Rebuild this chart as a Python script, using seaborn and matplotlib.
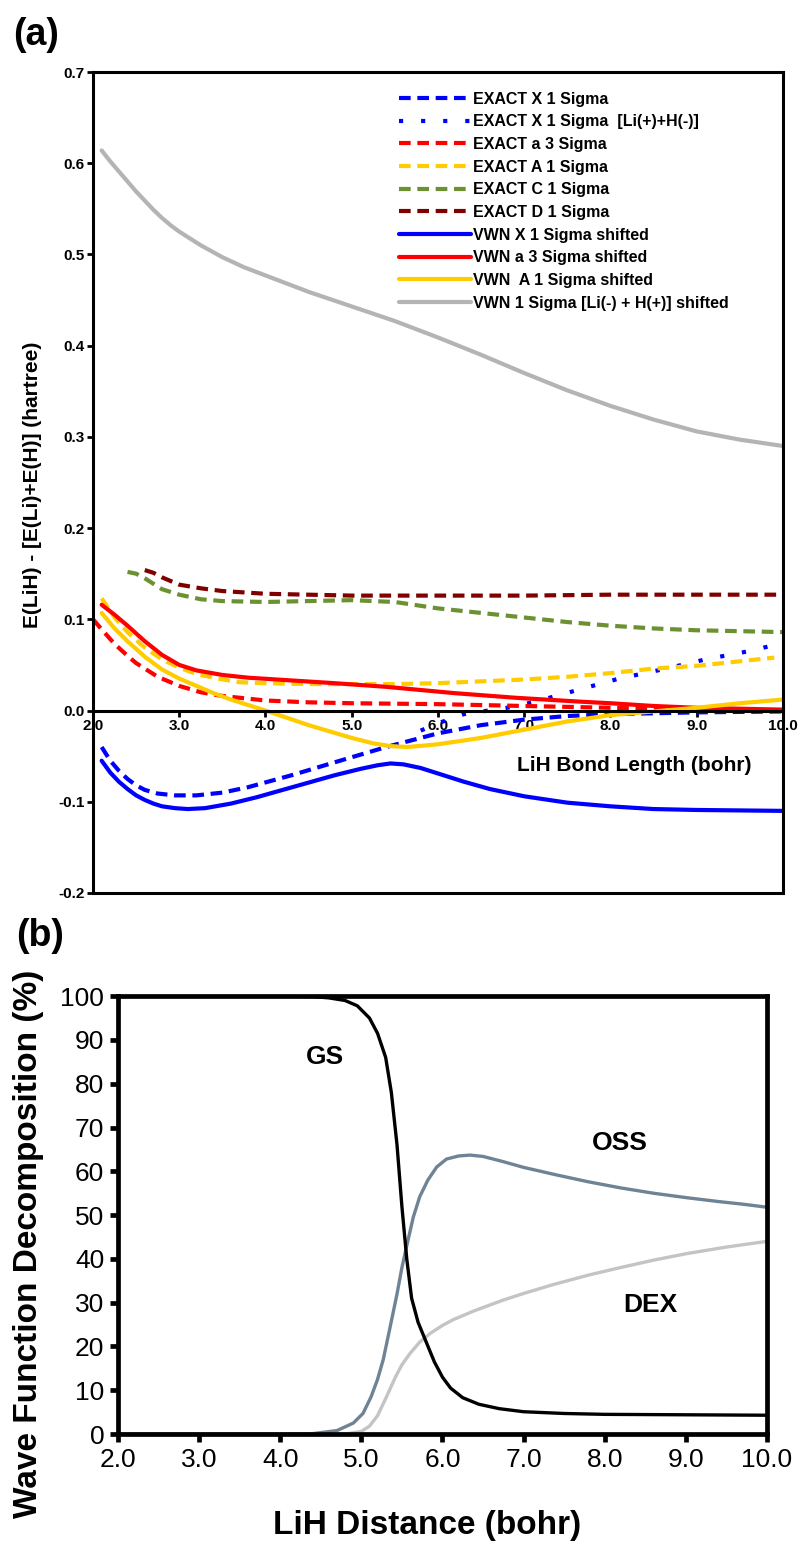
import numpy as np
import pandas as pd
import seaborn as sns
import matplotlib.pyplot as plt

# ---- panel (a): energies (hartree) vs LiH bond length (bohr) ----
ion_x = [2.1, 2.2, 2.3, 2.4, 2.5, 2.6, 2.7, 2.8, 2.9, 3.0, 3.25, 3.5, 3.75, 4.0, 4.5, 5.0, 5.5,
         6.0, 6.5, 7.0, 7.5, 8.0, 8.5, 9.0, 9.5, 10.0]
ion_y = [0.614, 0.602, 0.591, 0.580, 0.569, 0.559, 0.549, 0.540, 0.532, 0.525, 0.510, 0.497,
         0.486, 0.477, 0.459, 0.443, 0.427, 0.409, 0.390, 0.370, 0.351, 0.334, 0.319, 0.306,
         0.297, 0.290]

exD_x = [2.6, 2.7, 2.8, 3.0, 3.25, 3.5, 4.0, 5.0, 6.0, 7.0, 8.0, 9.0, 10.0]
exD_y = [0.154, 0.151, 0.146, 0.138, 0.134, 0.131, 0.128, 0.126, 0.126, 0.126, 0.127, 0.127, 0.127]

exC_x = [2.4, 2.5, 2.6, 2.7, 2.8, 3.0, 3.25, 3.5, 4.0, 4.5, 5.0, 5.5, 6.0, 6.5, 7.0, 7.5, 8.0,
         8.5, 9.0, 9.5, 10.0]
exC_y = [0.152, 0.150, 0.145, 0.139, 0.133, 0.127, 0.122, 0.120, 0.119, 0.120, 0.121, 0.119,
         0.112, 0.107, 0.102, 0.097, 0.093, 0.090, 0.088, 0.087, 0.086]

exA_x = [2.1, 2.25, 2.4, 2.6, 2.8, 3.0, 3.2, 3.45, 3.7, 4.0, 4.5, 5.0, 5.5, 6.0, 6.5, 7.0, 7.5,
         8.0, 8.5, 9.0, 9.5, 9.9]
exA_y = [0.123, 0.102, 0.086, 0.069, 0.056, 0.047, 0.040, 0.035, 0.031, 0.030, 0.029, 0.029,
         0.029, 0.030, 0.032, 0.034, 0.037, 0.041, 0.046, 0.049, 0.054, 0.058]

exa3_x = [2.0, 2.1, 2.25, 2.4, 2.5, 2.75, 3.0, 3.25, 3.5, 4.0, 4.5, 5.0, 6.0, 7.0, 8.0, 9.0, 10.0]
exa3_y = [0.100, 0.089, 0.073, 0.060, 0.052, 0.037, 0.027, 0.020, 0.016, 0.011, 0.009, 0.008,
          0.007, 0.005, 0.003, 0.001, 0.000]

exX_x = [2.1, 2.2, 2.3, 2.4, 2.5, 2.6, 2.75, 2.95, 3.2, 3.5, 3.8, 4.3, 4.9, 5.4, 6.0, 6.5, 7.0,
         7.5, 8.0, 9.0, 10.0]
exX_y = [-0.040, -0.055, -0.066, -0.075, -0.082, -0.087, -0.091, -0.093, -0.093, -0.090,
         -0.084, -0.071, -0.054, -0.040, -0.025, -0.016, -0.010, -0.006, -0.004, -0.002, -0.001]

exXion_x = [5.8, 6.0, 6.3, 6.8, 7.1, 7.6, 8.1, 8.6, 9.1, 9.6, 10.0]
exXion_y = [-0.022, -0.014, -0.004, 0.003, 0.009, 0.022, 0.035, 0.045, 0.056, 0.065, 0.074]

vwnX_x = [2.1, 2.2, 2.3, 2.4, 2.5, 2.6, 2.7, 2.8, 2.95, 3.1, 3.3, 3.6, 3.9, 4.2, 4.5, 4.8, 5.1,
          5.3, 5.45, 5.6, 5.8, 6.0, 6.3, 6.6, 7.0, 7.5, 8.0, 8.5, 9.0, 10.0]
vwnX_y = [-0.055, -0.068, -0.078, -0.086, -0.093, -0.098, -0.102, -0.105, -0.107, -0.108,
          -0.107, -0.102, -0.095, -0.087, -0.079, -0.071, -0.064, -0.060, -0.058, -0.059,
          -0.063, -0.069, -0.078, -0.086, -0.094, -0.101, -0.105, -0.108, -0.109, -0.110]

vwna3_x = [2.1, 2.25, 2.4, 2.6, 2.8, 3.0, 3.2, 3.5, 3.8, 4.3, 4.8, 5.4, 6.2, 6.9, 7.6, 8.0, 8.5,
           9.0, 10.0]
vwna3_y = [0.116, 0.105, 0.093, 0.076, 0.061, 0.050, 0.044, 0.039, 0.036, 0.033, 0.030, 0.026,
           0.019, 0.014, 0.010, 0.008, 0.005, 0.003, 0.001]

vwnA_x = [2.1, 2.25, 2.4, 2.6, 2.8, 3.0, 3.2, 3.4, 3.6, 3.8, 4.0, 4.5, 5.0, 5.25, 5.45, 5.65,
          6.0, 6.5, 7.0, 7.5, 8.0, 8.5, 9.0, 9.5, 10.0]
vwnA_y = [0.107, 0.090, 0.076, 0.059, 0.045, 0.035, 0.027, 0.019, 0.012, 0.006, 0.000, -0.016,
          -0.030, -0.036, -0.039, -0.040, -0.037, -0.030, -0.021, -0.012, -0.005, -0.001,
          0.003, 0.008, 0.012]

labels_a = ["EXACT X 1 Sigma", "EXACT X 1 Sigma  [Li(+)+H(-)]", "EXACT a 3 Sigma",
            "EXACT A 1 Sigma", "EXACT C 1 Sigma", "EXACT D 1 Sigma",
            "VWN X 1 Sigma shifted", "VWN a 3 Sigma shifted", "VWN  A 1 Sigma shifted",
            "VWN 1 Sigma [Li(-) + H(+)] shifted"]

# ---- panel (b): wave function decomposition (%) vs LiH distance ----
gs_x = [2.0, 3.0, 4.0, 4.4, 4.6, 4.8, 4.95, 5.1, 5.2, 5.3, 5.37, 5.44, 5.5, 5.56, 5.62, 5.7,
        5.8, 5.9, 6.0, 6.1, 6.25, 6.45, 6.7, 7.0, 7.5, 8.0, 9.0, 10.0]
gs_y = [100, 100, 100, 99.9, 99.6, 99.0, 97.8, 95.0, 91.5, 86.0, 78.0, 66.0, 52.0, 40.0, 31.0,
        25.5, 21.0, 16.5, 13.0, 10.5, 8.3, 6.8, 5.8, 5.1, 4.7, 4.5, 4.4, 4.3]

oss_x = [2.0, 3.0, 4.0, 4.4, 4.7, 4.9, 5.02, 5.12, 5.2, 5.27, 5.35, 5.44, 5.5, 5.56, 5.64, 5.72,
         5.82, 5.93, 6.05, 6.2, 6.34, 6.5, 6.75, 7.0, 7.4, 7.8, 8.2, 8.6, 9.0, 9.4, 9.7, 10.0]
oss_y = [0, 0, 0, 0.1, 0.8, 2.5, 4.7, 8.5, 12.5, 17.0, 24.0, 32.0, 38.0, 43.0, 49.5, 54.2,
         58.0, 61.0, 62.8, 63.5, 63.7, 63.4, 62.2, 60.9, 59.2, 57.6, 56.2, 55.0, 54.0, 53.1,
         52.5, 51.8]

dex_x = [2.0, 3.0, 4.0, 4.8, 5.0, 5.1, 5.2, 5.31, 5.42, 5.5, 5.6, 5.72, 5.85, 6.0, 6.13, 6.4,
         6.75, 7.0, 7.36, 7.8, 8.19, 8.6, 9.01, 9.5, 10.0]
dex_y = [0, 0, 0, 0, 0.6, 1.8, 4.2, 8.5, 13.0, 15.8, 18.4, 21.0, 23.0, 24.8, 26.1, 28.2, 30.6,
         32.1, 34.1, 36.3, 38.0, 39.7, 41.2, 42.7, 44.0]

sns.set_theme(style="white")
plt.rcParams['font.family'] = ['Liberation Sans', 'DejaVu Sans']
plt.rcParams['text.color'] = 'black'
plt.rcParams['axes.labelcolor'] = 'black'
plt.rcParams['xtick.color'] = 'black'
plt.rcParams['ytick.color'] = 'black'

fig = plt.figure(figsize=(8.04, 15.42), dpi=100)
ax1 = fig.add_axes([0.1157, 0.4209, 0.858, 0.5324])
ax2 = fig.add_axes([0.1468, 0.0700, 0.807, 0.2840])


def draw(ax, x, y, color, label, lw, dashes=None):
    sns.lineplot(x=x, y=y, ax=ax, color=color, label=label, linewidth=lw)
    line = ax.lines[-1]
    if dashes is not None:
        line.set_dashes(dashes)
    return line


dash = (2.8, 1.6)
dots = (1.0, 4.3)
draw(ax1, exX_x, exX_y, "#0000ff", labels_a[0], 3, dash)
draw(ax1, exXion_x, exXion_y, "#0000ff", labels_a[1], 3, dots)
draw(ax1, exa3_x, exa3_y, "#ff0000", labels_a[2], 3, dash)
draw(ax1, exA_x, exA_y, "#ffcc00", labels_a[3], 3, dash)
draw(ax1, exC_x, exC_y, "#6b9131", labels_a[4], 3, dash)
draw(ax1, exD_x, exD_y, "#800000", labels_a[5], 3, dash)
draw(ax1, vwnX_x, vwnX_y, "#0000ff", labels_a[6], 3)
draw(ax1, vwna3_x, vwna3_y, "#ff0000", labels_a[7], 3)
draw(ax1, vwnA_x, vwnA_y, "#ffcc00", labels_a[8], 3)
draw(ax1, ion_x, ion_y, "#b4b4b4", labels_a[9], 3)

ax1.set_xlim(2, 10)
ax1.set_ylim(-0.2, 0.7)
ax1.spines['bottom'].set_position(('data', 0))
for s in ax1.spines.values():
    s.set_color('black')
    s.set_linewidth(2.2)
ax1.axhline(-0.2, color='black', lw=2.2, clip_on=False)
ax1.set_xticks(np.arange(2, 10.01, 1))
ax1.set_xticklabels([f"{v:.1f}" for v in np.arange(2, 10.01, 1)], fontsize=11, fontweight='bold')
ax1.set_yticks(np.arange(-0.2, 0.71, 0.1))
ax1.set_yticklabels([f"{v:.1f}" for v in np.arange(-0.2, 0.71, 0.1)], fontsize=11, fontweight='bold')
ax1.tick_params(axis='both', direction='out', length=4, width=2, color='black', pad=2,
                bottom=True, left=True)
ax1.set_xlabel("")
ax1.set_ylabel("E(LiH) - [E(Li)+E(H)] (hartree)", fontsize=15, fontweight='bold')
ax1.yaxis.set_label_coords(-0.074, 0.497)
ax1.text(8.28, -0.060, "LiH Bond Length (bohr)", fontsize=15, fontweight='bold',
         ha='center', va='center')
h, l = ax1.get_legend_handles_labels()
ax1.legend(h, l, loc='upper left', bbox_to_anchor=(0.435, 0.984), frameon=False,
           handlelength=4.5, handletextpad=0.1, labelspacing=0.48, borderaxespad=0,
           prop={'weight': 'bold', 'size': 11.5})

# panel (b)
draw(ax2, dex_x, dex_y, "#c4c4c4", "DEX", 2.4)
draw(ax2, oss_x, oss_y, "#6f8395", "OSS", 2.4)
draw(ax2, gs_x, gs_y, "black", "GS", 2.4)
ax2.get_legend().remove()
ax2.set_xlim(2, 10)
ax2.set_ylim(0, 100)
for s in ax2.spines.values():
    s.set_color('black')
    s.set_linewidth(3.4)
ax2.set_xticks(np.arange(2, 10.01, 1))
ax2.set_xticklabels([f"{v:.1f}" for v in np.arange(2, 10.01, 1)], fontsize=19)
ax2.set_yticks(np.arange(0, 101, 10))
ax2.set_yticklabels([str(v) for v in range(0, 101, 10)], fontsize=19)
ax2.tick_params(axis='both', direction='out', length=6, width=3.4, color='black', pad=4,
                bottom=True, left=True)
ax2.set_xlabel("LiH Distance (bohr)", fontsize=24, fontweight='bold')
ax2.set_ylabel("Wave Function Decomposition (%)", fontsize=24, fontweight='bold')
ax2.xaxis.set_label_coords(0.476, -0.1735)
ax2.yaxis.set_label_coords(-0.114, 0.435)
ax2.text(4.55, 86, "GS", fontsize=19, fontweight='bold', ha='center', va='center')
ax2.text(8.19, 66.5, "OSS", fontsize=19, fontweight='bold', ha='center', va='center')
ax2.text(8.56, 29.5, "DEX", fontsize=19, fontweight='bold', ha='center', va='center')

fig.text(36 / 804, 1 - 35 / 1542, "(a)", fontsize=27, fontweight='bold', ha='center', va='center')
fig.text(40 / 804, 1 - 936 / 1542, "(b)", fontsize=27, fontweight='bold', ha='center', va='center')

fig.savefig("out.png", dpi=100, facecolor='white')
